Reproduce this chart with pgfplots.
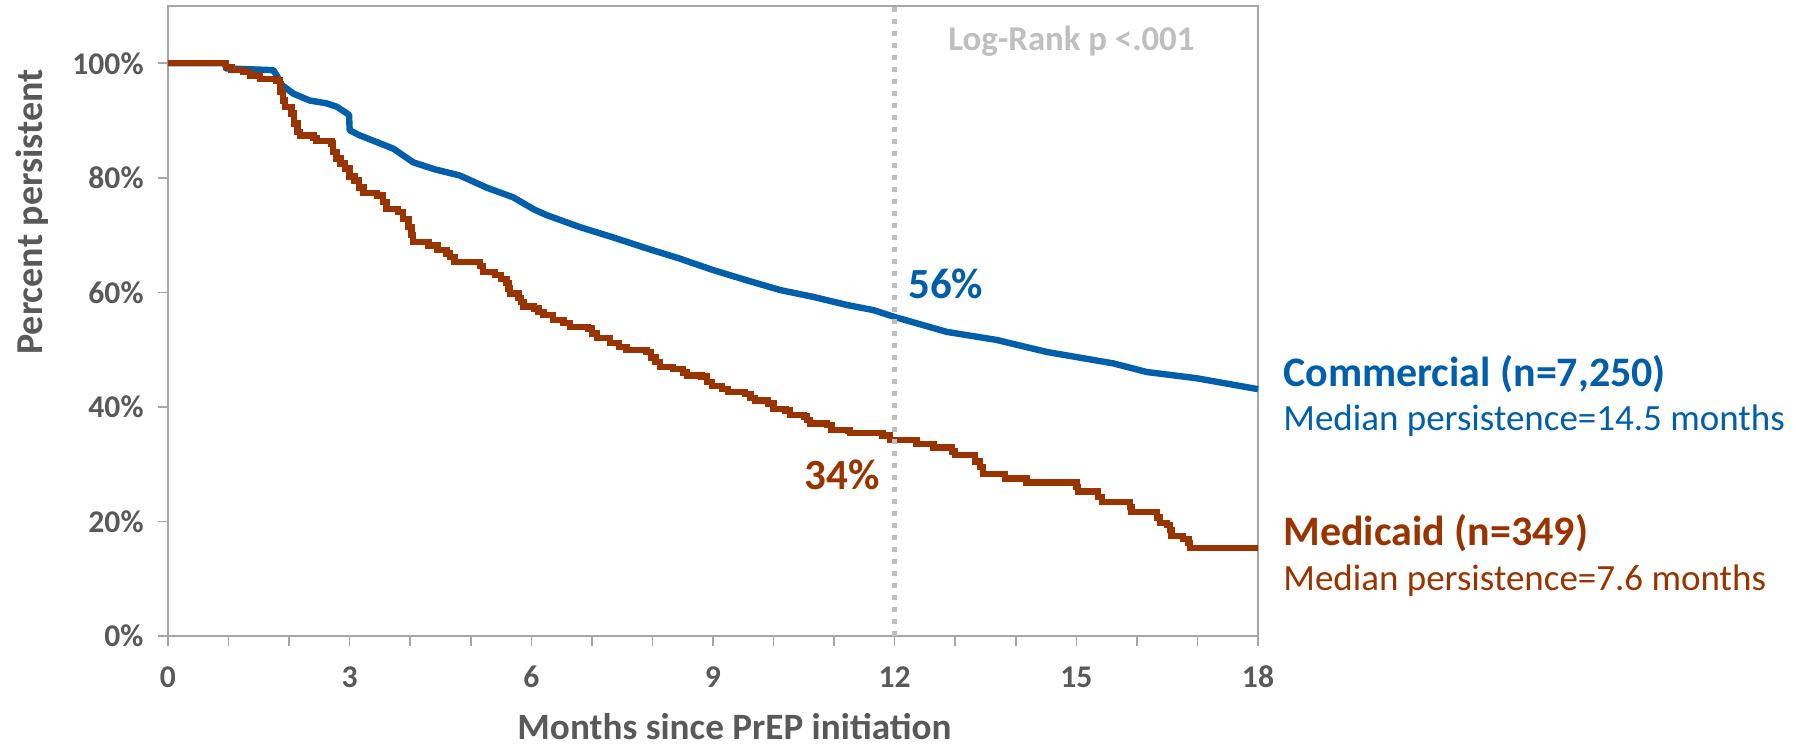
\documentclass[border=0pt]{standalone}
\usepackage{pgfplots}
\pgfplotsset{compat=1.18}
\usepackage{fontspec}
\setmainfont{Carlito}
\definecolor{cblue}{RGB}{0,94,170}
\definecolor{cred}{RGB}{153,51,0}
\definecolor{tgray}{RGB}{89,89,89}
\definecolor{agray}{RGB}{166,166,166}
\definecolor{lgray}{RGB}{191,191,191}
\begin{document}
\begin{tikzpicture}
\begin{axis}[
  at={(0,0)}, anchor=south west,
  width=545pt, height=315pt, scale only axis,
  xmin=0, xmax=18, ymin=0, ymax=110,
  xtick={0,3,...,18},
  minor xtick={1,2,4,5,7,8,10,11,13,14,16,17},
  ytick={0,20,...,100},
  yticklabels={0\%,20\%,40\%,60\%,80\%,100\%},
  xtick pos=bottom, ytick pos=left, tick align=outside,
  major tick length=5pt, minor tick length=5pt,
  axis line style={agray, line width=0.8pt},
  tick style={agray, line width=0.8pt},
  tick label style={font=\fontsize{15.8}{17}\selectfont\bfseries, text=tgray},
  xticklabel style={anchor=base, yshift=-20.5pt},
  yticklabel style={xshift=-3.7pt},
  /pgf/number format/assume math mode=true,
  clip=false,
]
% Commercial
\addplot[cblue, line width=3.2pt, line join=round] coordinates {
(0,100) (0.94,100) (0.96,99.1) (1.74,98.8) (1.80,97.8) (1.88,96.2) (2.07,94.7)
(2.34,93.5) (2.62,93.0) (2.79,92.4) (2.99,91.0) (3.0,88.3) (3.17,87.4) (3.72,85.1)
(4.05,82.7) (4.40,81.5) (4.82,80.4) (5.26,78.3) (5.70,76.6) (6.04,74.5) (6.25,73.5)
(6.80,71.4) (7.35,69.6) (7.90,67.7) (8.45,65.9) (9.00,63.9) (9.56,62.1) (10.11,60.4)
(10.66,59.2) (11.21,57.8) (11.65,56.9) (12.0,55.7) (12.86,53.1) (13.68,51.7)
(14.51,49.6) (15.61,47.6) (16.16,46.1) (16.99,45.0) (18.0,43.1)
};
% Medicaid
\addplot[cred, line width=3.2pt, const plot] coordinates {
(0,100) (0.96,99.4) (1.05,98.8) (1.24,98.5) (1.35,97.9) (1.52,97.3) (1.79,97.0)
(1.85,96.4) (1.86,95.0) (1.90,93.5) (1.93,92.4) (2.04,91.2) (2.08,89.5) (2.14,88.0)
(2.18,87.4) (2.40,87.0) (2.45,86.4) (2.70,86.0) (2.72,84.5) (2.78,83.4) (2.85,82.5)
(2.92,81.6) (3.0,80.2) (3.08,79.5) (3.15,78.3) (3.23,77.3) (3.45,76.9) (3.55,75.8)
(3.61,74.6) (3.80,74.0) (3.88,72.8) (3.97,71.4) (4.02,70.0) (4.05,68.8) (4.30,68.2)
(4.45,67.4) (4.60,66.8) (4.66,66.2) (4.73,65.3) (5.15,64.6) (5.20,63.6) (5.40,63.0)
(5.50,62.3) (5.59,61.6) (5.62,60.7) (5.65,59.8) (5.79,59.0) (5.83,58.3) (5.87,57.5)
(6.04,57.2) (6.12,56.6) (6.20,56.0) (6.36,55.2) (6.53,54.7) (6.64,54.0) (6.94,53.7)
(7.00,52.8) (7.08,52.0) (7.30,51.2) (7.45,50.5) (7.57,49.9) (7.90,49.6) (7.98,48.6)
(8.05,47.8) (8.12,47.0) (8.34,46.6) (8.50,46.0) (8.57,45.5) (8.81,45.3) (8.90,44.4)
(8.98,43.6) (9.15,43.1) (9.25,42.6) (9.53,42.3) (9.62,41.6) (9.69,41.1) (9.91,40.6)
(10.0,39.6) (10.2,39.4) (10.27,38.6) (10.5,38.3) (10.55,37.7) (10.60,37.1) (10.88,36.8)
(10.96,36.0) (11.24,35.9) (11.26,35.4) (11.80,35.0) (11.92,34.2) (12.36,33.5)
(12.64,32.9) (12.95,32.2) (13.0,31.6) (13.33,30.5) (13.41,29.5) (13.46,28.3)
(13.82,27.5) (14.18,26.8) (15.0,26.0) (15.03,25.2) (15.36,24.3) (15.42,23.4)
(15.89,22.5) (15.91,21.7) (16.33,20.7) (16.38,19.7) (16.5,19.4) (16.55,18.5)
(16.57,17.5) (16.76,16.9) (16.85,16.2) (16.88,15.4) (18.0,15.4)
};
% 12-month reference line
\addplot[lgray, line width=2.5pt, dash pattern=on 2.5pt off 3.5pt] coordinates {(12,0) (12,110)};
\node[inner sep=0, anchor=base west, font=\fontsize{21.5}{23}\selectfont\bfseries, text=cblue] at (axis cs:12.22,59.0) {56\%};
\node[inner sep=0, anchor=base east, font=\fontsize{21.5}{23}\selectfont\bfseries, text=cred] at (axis cs:11.76,25.5) {34\%};
\node[inner sep=0, anchor=base west, font=\fontsize{17.4}{19}\selectfont\bfseries, text=lgray] at (axis cs:12.88,102.3) {Log-Rank p <.001};
\end{axis}
\node[inner sep=0, rotate=90, font=\fontsize{19}{21}\selectfont\bfseries, text=tgray] at (-68pt,212pt) {Percent persistent};
\node[inner sep=0, anchor=base, font=\fontsize{18.6}{21}\selectfont\bfseries, text=tgray] at (283.25pt,-51.8pt) {Months since PrEP initiation};
\node[inner sep=0, anchor=base west, font=\fontsize{21}{24}\selectfont\bfseries, text=cblue] at (557.5pt,125pt) {Commercial (n=7,250)};
\node[inner sep=0, anchor=base west, font=\fontsize{18.5}{20}\selectfont, text=cblue] at (557.5pt,103pt) {Median persistence=14.5 months};
\node[inner sep=0, anchor=base west, font=\fontsize{21}{24}\selectfont\bfseries, text=cred] at (557.5pt,45.5pt) {Medicaid (n=349)};
\node[inner sep=0, anchor=base west, font=\fontsize{18.5}{20}\selectfont, text=cred] at (557.5pt,23pt) {Median persistence=7.6 months};
\pgfresetboundingbox
\path (-84pt,-55pt) rectangle (814pt,318pt);
\end{tikzpicture}
\end{document}
